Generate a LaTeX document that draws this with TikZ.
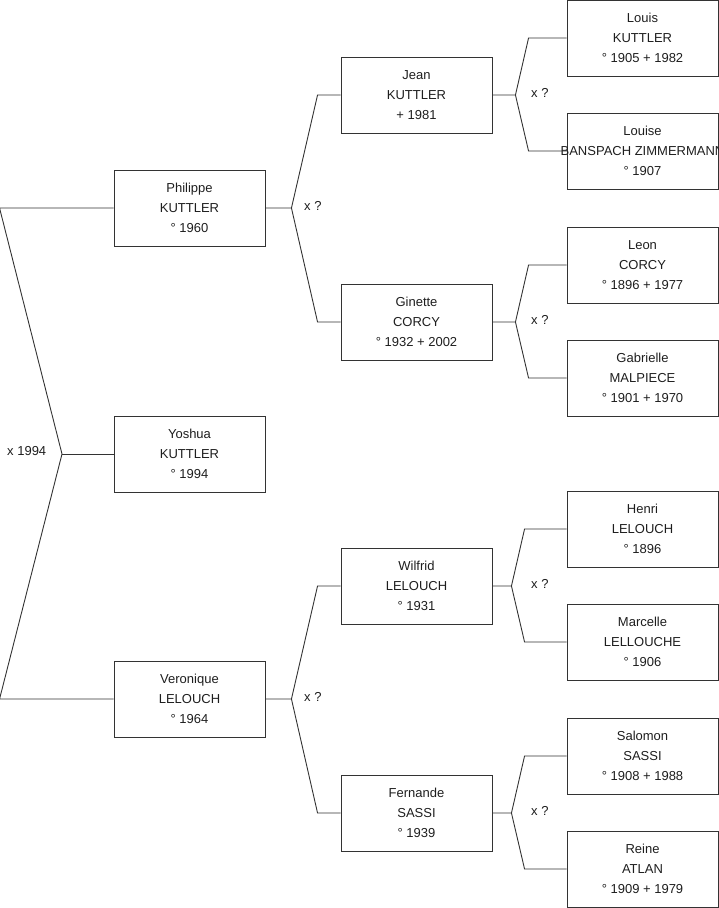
\documentclass[tikz,border=0pt]{standalone}
\usepackage{fontspec}
\setmainfont{Liberation Sans}
\usepackage{xcolor}
\usepackage{tikz}
\usetikzlibrary{positioning,calc}
\definecolor{ink}{HTML}{1E1E1E}
\definecolor{edge}{HTML}{333333}

\begin{document}
\begin{tikzpicture}[x=1pt,y=-1pt,font=\fontsize{13}{20}\selectfont,
  person/.style={draw=edge,line width=0.9pt,text=ink,align=center,minimum width=151pt,minimum height=76pt,inner sep=0pt},
  link/.style={draw=edge,line width=0.9pt},
  union/.style={anchor=west,inner sep=0pt,text=ink}]
\useasboundingbox (0,0) rectangle (719,908);
% persons, one generation per column
\foreach \n/\x/\y/\t in {phil/189.5/208/{Philippe\\KUTTLER\\° 1960},yoshua/189.5/454/{Yoshua\\KUTTLER\\° 1994},vero/189.5/699/{Veronique\\LELOUCH\\° 1964},
  jean/416.5/95/{Jean\\KUTTLER\\+ 1981},ginette/416.5/322/{Ginette\\CORCY\\° 1932 + 2002},wilfrid/416.5/586/{Wilfrid\\LELOUCH\\° 1931},fernande/416.5/813/{Fernande\\SASSI\\° 1939},
  louis/642.5/38/{Louis\\KUTTLER\\° 1905 + 1982},louise/642.5/151/{Louise\\\makebox[0pt]{BANSPACH ZIMMERMANN}\\° 1907},leon/642.5/265/{Leon\\CORCY\\° 1896 + 1977},gabrielle/642.5/378/{Gabrielle\\MALPIECE\\° 1901 + 1970},
  henri/642.5/529/{Henri\\LELOUCH\\° 1896},marcelle/642.5/642/{Marcelle\\LELLOUCHE\\° 1906},salomon/642.5/756/{Salomon\\SASSI\\° 1908 + 1988},reine/642.5/869/{Reine\\ATLAN\\° 1909 + 1979}}{
  \node[person] (\n) at (\x,\y) {\t};}
% parents of each child
\foreach \c/\f/\m/\a/\b in {phil/jean/ginette/26/23,vero/wilfrid/fernande/26/23,jean/louis/louise/23/38,ginette/leon/gabrielle/23/38,wilfrid/henri/marcelle/19/42,fernande/salomon/reine/19/42}{
  \draw[link] (\c.east) -- ([xshift=\a]\c.east) coordinate (v\c) -- ([xshift=-\b]\f.west) -- (\f.west);
  \draw[link] (v\c) -- ([xshift=-\b]\m.west) -- (\m.west);}
\coordinate (vroot) at (62,454);
\draw[link] (phil.west) -- ([xshift=-114]phil.west) -- (vroot) -- ([xshift=-114]vero.west) -- (vero.west);
\draw[link] (vroot) -- (yoshua.west);
% marriage labels
\node[union] (uroot) at (7,451) {x 1994};
\foreach \c/\x in {phil/304,vero/304,jean/531,ginette/531,wilfrid/531,fernande/531}{
  \node[union,yshift=2pt] (u\c) at (\x,0 |- v\c) {x ?};}
\end{tikzpicture}
\end{document}
